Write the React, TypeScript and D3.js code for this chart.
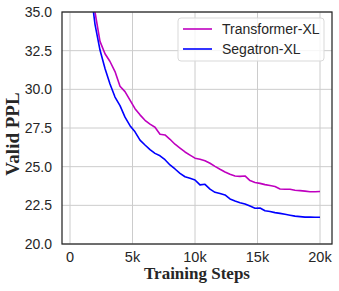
import * as d3 from "d3";

const steps = [
  1200, 1600, 2000, 2400, 2800, 3200, 3600, 4000, 4400, 4800, 5200, 5600, 6000,
  6400, 6800, 7200, 7600, 8000, 8400, 8800, 9200, 9600, 10000, 10400, 10800,
  11200, 11600, 12000, 12400, 12800, 13200, 13600, 14000, 14400, 14800, 15200,
  15600, 16000, 16400, 16800, 17200, 17600, 18000, 18400, 18800, 19200, 19600,
  20000,
];

const transformerXL = [
  40.5, 37.8, 35.0, 33.1, 32.3, 31.8, 31.15, 30.2, 29.85, 29.3, 28.75, 28.35,
  28.0, 27.75, 27.55, 27.1, 27.05, 26.77, 26.45, 26.2, 25.95, 25.75, 25.55,
  25.48, 25.38, 25.22, 25.02, 24.83, 24.66, 24.51, 24.4, 24.37, 24.4, 24.1,
  23.98, 23.92, 23.84, 23.78, 23.72, 23.56, 23.54, 23.54, 23.48, 23.45, 23.42,
  23.38, 23.38, 23.39,
];

const segatronXL = [
  40.0, 36.8, 34.2, 32.54, 31.35, 30.35, 29.5, 28.95, 28.2, 27.65, 27.25, 26.72,
  26.4, 26.1, 25.86, 25.7, 25.45, 25.11, 24.85, 24.57, 24.35, 24.25, 24.14,
  23.82, 23.86, 23.55, 23.34, 23.26, 23.17, 22.91, 22.78, 22.67, 22.59, 22.45,
  22.31, 22.33, 22.15, 22.1, 22.03, 21.98, 21.92, 21.86, 21.8, 21.77, 21.74,
  21.74, 21.73, 21.73,
];

const xTicks = [0, 5000, 10000, 15000, 20000];
const xTickLabels = ["0", "5k", "10k", "15k", "20k"];
const yTicks = [20, 22.5, 25, 27.5, 30, 32.5, 35];

const series = [
  { name: "Transformer-XL", values: transformerXL, color: "#bf00bf" },
  { name: "Segatron-XL", values: segatronXL, color: "#0000ff" },
];

const W = 339;
const H = 291;
const margin = { top: 12, right: 7, bottom: 47, left: 62 };

export default function App() {
  const x = d3
    .scaleLinear()
    .domain([-640, 20960])
    .range([margin.left, W - margin.right]);
  const y = d3
    .scaleLinear()
    .domain([20, 35])
    .range([H - margin.bottom, margin.top]);

  const line = d3
    .line<number>()
    .x((_, i) => x(steps[i]))
    .y((d) => y(d));

  const x0 = margin.left;
  const x1 = W - margin.right;
  const y0 = H - margin.bottom;
  const y1 = margin.top;
  const tickColor = "#262626";

  return (
    <svg
      width={W}
      height={H}
      style={{ position: "absolute", left: 0, top: 0, background: "#fff" }}
      fontFamily="Liberation Sans, Arial, sans-serif"
    >
      <defs>
        <clipPath id="plot">
          <rect x={x0} y={y1} width={x1 - x0} height={y0 - y1} />
        </clipPath>
      </defs>

      {/* grid */}
      {xTicks.map((t) => (
        <line key={"gx" + t} x1={x(t)} x2={x(t)} y1={y1} y2={y0} stroke="#cccccc" strokeWidth={1} />
      ))}
      {yTicks.map((t) => (
        <line key={"gy" + t} x1={x0} x2={x1} y1={y(t)} y2={y(t)} stroke="#cccccc" strokeWidth={1} />
      ))}

      {/* lines */}
      <g clipPath="url(#plot)">
        {series.map((s) => (
          <path
            key={s.name}
            d={line(s.values) ?? ""}
            fill="none"
            stroke={s.color}
            strokeWidth={1.6}
            strokeLinejoin="round"
          />
        ))}
      </g>

      {/* spines */}
      <rect x={x0} y={y1} width={x1 - x0} height={y0 - y1} fill="none" stroke={tickColor} strokeWidth={1.25} />

      {/* tick labels */}
      {yTicks.map((t) => (
        <text key={"ty" + t} x={x0 - 10} y={y(t)} dy="0.35em" textAnchor="end" fontSize={14} fill={tickColor}>
          {t.toFixed(1)}
        </text>
      ))}
      {xTicks.map((t, i) => (
        <text key={"tx" + t} x={x(t)} y={y0 + 18} textAnchor="middle" fontSize={14.5} fill={tickColor}>
          {xTickLabels[i]}
        </text>
      ))}

      {/* axis titles */}
      <text
        x={(x0 + x1) / 2}
        y={279}
        textAnchor="middle"
        fontFamily="Liberation Serif, Times New Roman, serif"
        fontWeight="bold"
        fontSize={17}
        fill={tickColor}
      >
        Training Steps
      </text>
      <text
        transform={`translate(19,${(y0 + y1) / 2 + 6}) rotate(-90)`}
        textAnchor="middle"
        fontFamily="Liberation Serif, Times New Roman, serif"
        fontWeight="bold"
        fontSize={19}
        fill={tickColor}
      >
        Valid PPL
      </text>

      {/* legend */}
      <rect x={178} y={18} width={146} height={43} rx={3} fill="#fff" fillOpacity={0.8} stroke="#d9d9d9" />
      {series.map((s, i) => (
        <g key={"lg" + s.name} transform={`translate(183,${29 + i * 20})`}>
          <line x1={0} x2={29} y1={0} y2={0} stroke={s.color} strokeWidth={1.6} />
          <text x={39} y={0} dy="0.35em" fontSize={14} fill={tickColor}>
            {s.name}
          </text>
        </g>
      ))}
    </svg>
  );
}
